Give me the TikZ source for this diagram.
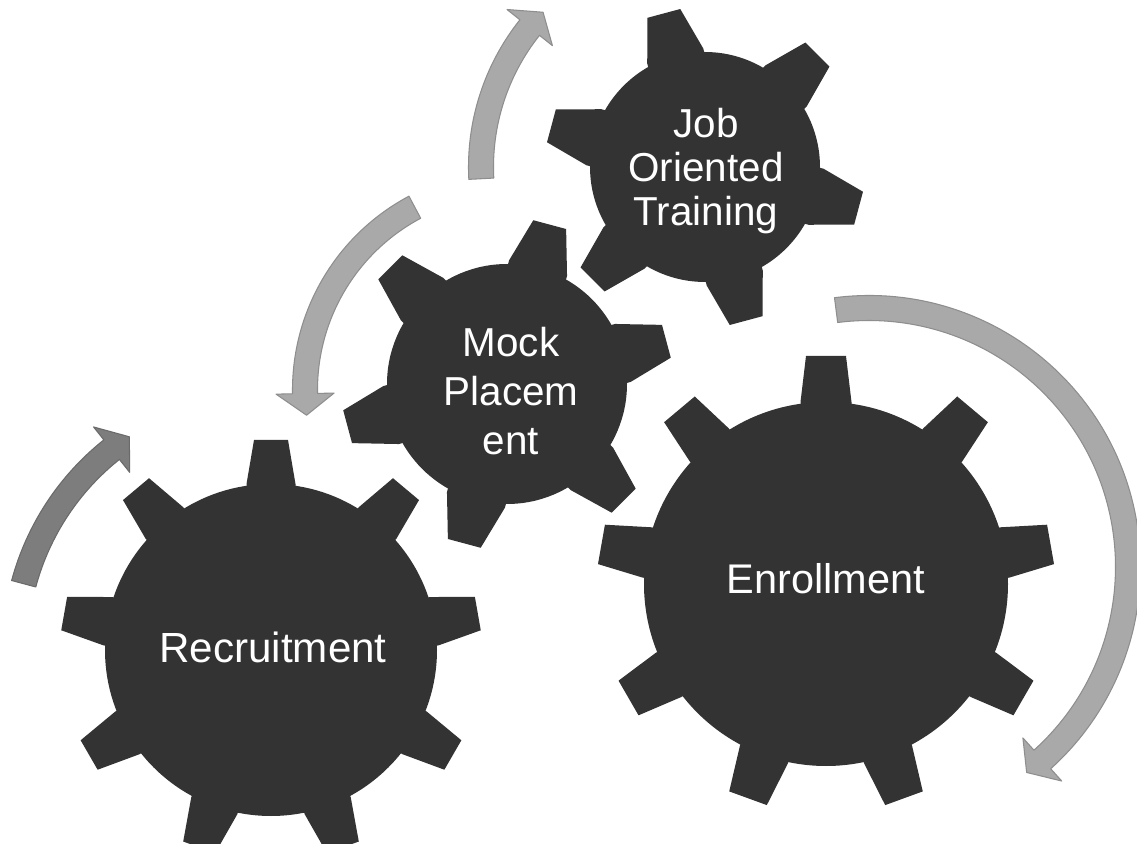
\documentclass[tikz,border=0pt]{standalone}
\usepackage{fontspec}
\setmainfont{Liberation Sans}
\definecolor{gearcol}{HTML}{333333}
\definecolor{arrowlight}{HTML}{A9A9A9}
\definecolor{arrowlightedge}{HTML}{8E8E8E}
\definecolor{arrowdark}{HTML}{7D7D7D}
\definecolor{arrowdarkedge}{HTML}{6A6A6A}
\tikzset{
  gearfill/.style={fill=gearcol},
  lightarrow/.style={fill=arrowlight, draw=arrowlightedge, line width=0.6pt, line join=round},
  darkarrow/.style={fill=arrowdark, draw=arrowdarkedge, line width=0.6pt, line join=round},
  geartext/.style={text=white, align=center, inner sep=0pt},
}
% #1 cx, #2 cy, #3 root r, #4 tip r, #5 teeth, #6 first angle, #7 base half width, #8 tip half width
\newcommand{\drawgear}[8]{%
  \begin{scope}[shift={(#1,#2)}]
    \fill[gearfill] (0,0) circle[radius=#3];
    \foreach \k in {1,...,#5}{
      \pgfmathsetmacro{\gang}{#6+360/#5*(\k-1)}
      \fill[gearfill, rotate=\gang] ({#3-10},-#7) -- (#3,-#7) -- (#4,-#8) -- (#4,#8) -- (#3,#7) -- ({#3-10},#7) -- cycle;
    }
  \end{scope}}
% #1 cx, #2 cy, #3 r, #4 start angle, #5 head base angle, #6 tip angle, #7 style
\newcommand{\curvearrow}[7]{%
  \begin{scope}[shift={(#1,#2)}]
    \pgfmathsetmacro{\arRo}{#3+12.5}
    \pgfmathsetmacro{\arRi}{#3-12.5}
    \pgfmathsetmacro{\arHo}{#3+29}
    \pgfmathsetmacro{\arHi}{#3-29}
    \filldraw[#7] (#4:\arRo) arc[start angle=#4, end angle=#5, radius=\arRo]
      -- (#5:\arHo) -- (#6:#3) -- (#5:\arHi) -- (#5:\arRi)
      arc[start angle=#5, end angle=#4, radius=\arRi] -- cycle;
  \end{scope}}
\begin{document}
\begin{tikzpicture}[x=0.02cm, y=0.02cm]
  \useasboundingbox (0,0) rectangle (1137,843);
  \fill[white] (0,0) rectangle (1137,843);
  % arrows
  \curvearrow{271}{193}{256}{165}{128.5}{123.6}{darkarrow}
  \curvearrow{512}{453}{207}{118}{181}{187}{lightarrow}
  \curvearrow{705}{676}{224}{183}{141.5}{136.3}{lightarrow}
  \curvearrow{869}{276}{259}{97.3}{-48}{-52.5}{lightarrow}
  % gears
  \drawgear{271}{193}{166}{210}{9}{90}{24.5}{17}
  \drawgear{826}{259}{182}{228}{9}{90}{25.5}{20}
  \drawgear{507}{459}{120}{165}{6}{15}{30}{17}
  \drawgear{705}{676}{115}{159}{6}{45}{29}{17}
  % labels
  \node[geartext, anchor=base, font=\fontsize{24}{28}\selectfont] (recruit) at (273,181) {Recruitment};
  \node[geartext, anchor=base, font=\fontsize{23.6}{28}\selectfont] (enroll) at (826,250) {Enrollment};
  \node[geartext, font=\fontsize{23}{27.7}\selectfont] (mock) at (511,452) {Mock\\Placem\\ent};
  \node[geartext, font=\fontsize{23}{24.8}\selectfont] (train) at (706,672) {Job\\Oriented\\Training};
\end{tikzpicture}
\end{document}
